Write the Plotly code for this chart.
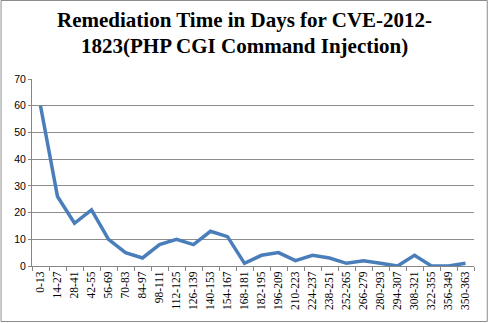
import plotly.graph_objects as go

categories = ["0-13", "14-27", "28-41", "42-55", "56-69", "70-83", "84-97", "98-111",
              "112-125", "126-139", "140-153", "154-167", "168-181", "182-195", "196-209",
              "210-223", "224-237", "238-251", "252-265", "266-279", "280-293", "294-307",
              "308-321", "322-355", "356-349", "350-363"]
values = [60, 26, 16, 21, 10, 5, 3, 8, 10, 8, 13, 11, 1, 4, 5, 2, 4, 3, 1, 2, 1, 0, 4, 0, 0, 1]
title_lines = ["Remediation Time in Days for CVE-2012-", "1823(PHP CGI Command Injection)"]
y_ticks = [0, 10, 20, 30, 40, 50, 60, 70]

W, H = 489, 323
L, R, T, B = 31.5, 14.8, 79, 57
pw, ph = W - L - R, H - T - B

fig = go.Figure(go.Scatter(
    x=categories, y=values, mode="lines",
    line=dict(color="#4A7EBB", width=3.5),
    hoverinfo="x+y"))

def px_x(p):
    return (p - L) / pw

def px_y(p):
    return (H - B - p) / ph

fig.update_layout(
    width=W, height=H,
    margin=dict(l=L, r=R, t=T, b=B),
    paper_bgcolor="white", plot_bgcolor="white",
    showlegend=False,
    xaxis=dict(type="category", tickangle=-90, showgrid=False,
               showline=True, linecolor="#868686", linewidth=1,
               ticks="outside", tickson="boundaries", ticklen=4, tickcolor="#868686",
               tickfont=dict(family="Liberation Serif", size=11.5, color="#000000"),
               range=[-0.5, len(categories) - 0.5], fixedrange=True),
    yaxis=dict(range=[0, 70], tickvals=y_ticks, showgrid=True, gridcolor="#8C8C8C",
               gridwidth=1, showline=True, linecolor="#868686", linewidth=1,
               ticks="outside", ticklen=3, tickcolor="#868686", zeroline=False,
               tickfont=dict(family="Liberation Sans", size=10.5, color="#000000"),
               fixedrange=True),
    shapes=[dict(type="rect", xref="paper", yref="paper",
                 x0=px_x(0.5), x1=px_x(487.5), y0=px_y(321.5), y1=px_y(0.5),
                 line=dict(color="#8C8C8C", width=1), layer="below")],
    annotations=[
        dict(text="<b>%s</b>" % title_lines[0], xref="paper", yref="paper",
             x=px_x(244), y=px_y(20), xanchor="center", yanchor="middle",
             showarrow=False, font=dict(family="Liberation Serif", size=21, color="#000000")),
        dict(text="<b>%s</b>" % title_lines[1], xref="paper", yref="paper",
             x=px_x(244), y=px_y(46), xanchor="center", yanchor="middle",
             showarrow=False, font=dict(family="Liberation Serif", size=21, color="#000000")),
    ],
)

fig.write_html("out.html")
